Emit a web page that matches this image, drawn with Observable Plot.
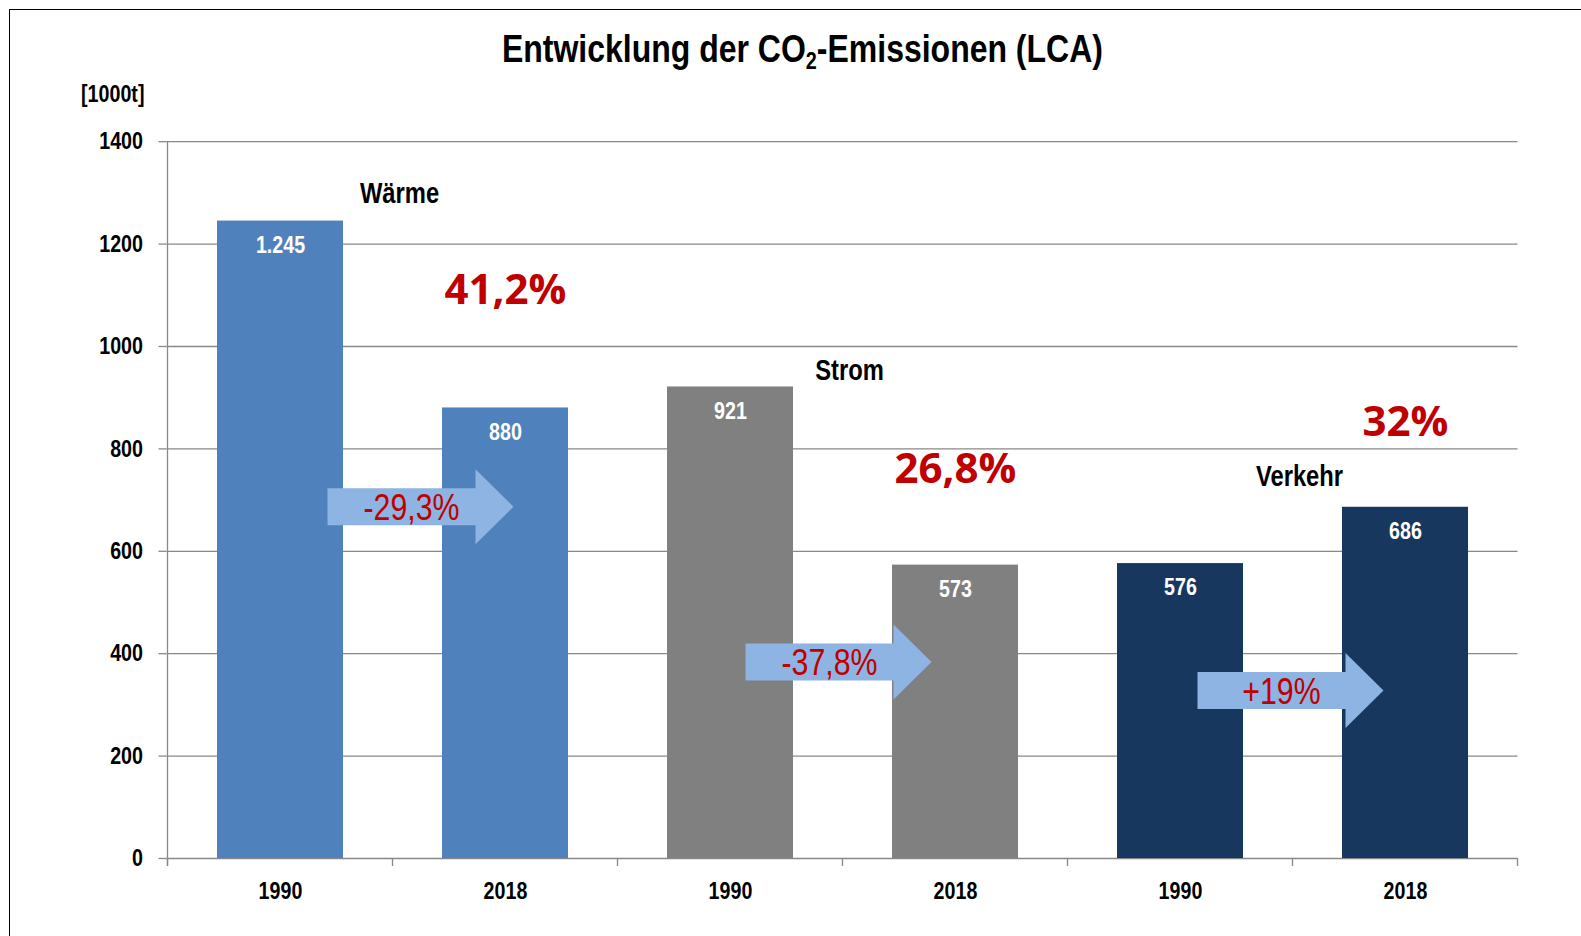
<!DOCTYPE html>
<html>
<head>
<meta charset="utf-8">
<script src="https://cdn.jsdelivr.net/npm/d3@7"></script>
<script src="https://cdn.jsdelivr.net/npm/@observablehq/plot@0.6"></script>
<style>
  html, body { margin: 0; padding: 0; background: #fff; }
  body { width: 1581px; height: 936px; overflow: hidden; position: relative;
         font-family: "Liberation Sans", Arial, sans-serif; }
  #frame { position: absolute; left: 9px; top: 9px; width: 1600px; height: 960px;
           border-left: 1.5px solid #000; border-top: 1.5px solid #000; pointer-events: none; }
  #title { position: absolute; left: 0; top: 0; width: 1604px; height: 80px; line-height: 97px;
           text-align: center; font-weight: bold; font-size: 39px; color: #000; white-space: nowrap; }
  #title span { display: inline-block; transform: scaleX(0.82); transform-origin: center; }
  #title sub { font-size: 0.62em; vertical-align: -0.28em; line-height: 0; }
  #unit { position: absolute; left: 81px; top: 80px; font-weight: bold; font-size: 24px; line-height: 28px;
          transform: scaleX(0.82); transform-origin: left center; }
  #chart { position: absolute; left: 0; top: 80px; }
</style>
</head>
<body>
<div id="title"><span>Entwicklung der CO<sub>2</sub>-Emissionen (LCA)</span></div>
<div id="unit">[1000t]</div>
<div id="chart"></div>
<div id="frame"></div>
<script>
// ---- data ----
const groups = ["Wärme", "Strom", "Verkehr"];
const years = ["1990", "2018"];
const emissions1990 = [1245, 921, 576];
const emissions2018 = [880, 573, 686];
const valueLabels1990 = ["1.245", "921", "576"];
const valueLabels2018 = ["880", "573", "686"];
const changeLabels = ["-29,3%", "-37,8%", "+19%"];
const shareLabels = ["41,2%", "26,8%", "32%"];
const yTicks = [0, 200, 400, 600, 800, 1000, 1200, 1400];
// annotation anchors (data units of the y axis)
const groupLabelY = [1298, 953, 746];
const shareLabelY = [1109, 760, 852];
const arrowY = [686, 383, 327];

// ---- styles ----
const FONT = '"Liberation Sans", Arial, sans-serif';
const NARROW_SCALE = 0.82;
const groupColors = ["#4F81BD", "#808080", "#17375E"];
const arrowColor = "#8DB4E2";
const red = "#C00000";
const gridColor = "#888888";
const arrowShift = [28, -4, -2];

// ---- tables ----
const bars = groups.flatMap((g, i) => [
  {key: g + " " + years[0], group: g, value: emissions1990[i], label: valueLabels1990[i]},
  {key: g + " " + years[1], group: g, value: emissions2018[i], label: valueLabels2018[i]}
]);
const keys = bars.map(d => d.key);
const groupTable = groups.map((g, i) => ({
  group: g, from: g + " " + years[0], to: g + " " + years[1],
  labelY: groupLabelY[i], shareY: shareLabelY[i], share: shareLabels[i],
  arrowY: arrowY[i], change: changeLabels[i]
}));

function axisFrame(index, scales) {
  const x = scales.x, y = scales.y;
  const step = x.step(), bw = x.bandwidth();
  const left = x(keys[0]) - (step - bw) / 2;
  const y0 = y(0), yTop = y(1400);
  const g = d3.create("svg:g").attr("stroke", gridColor).attr("stroke-width", 1.3).attr("fill", "none");
  g.append("line").attr("x1", left).attr("x2", left).attr("y1", yTop).attr("y2", y0 + 8);
  for (let k = 0; k <= keys.length; k++) {
    const bx = left + k * step;
    g.append("line").attr("x1", bx).attr("x2", bx).attr("y1", y0).attr("y2", y0 + 8);
  }
  return g.node();
}

function arrowsMark(index, scales) {
  const x = scales.x, y = scales.y, bw = x.bandwidth();
  const g = d3.create("svg:g");
  groupTable.forEach((a, i) => {
    const cx = (x(a.from) + bw + x(a.to)) / 2 + arrowShift[i];
    const cy = y(a.arrowY);
    const half = 93, head = 38, bodyH = 18.5, headH = 37.5;
    const pts = [[cx - half, cy - bodyH], [cx + half - head, cy - bodyH], [cx + half - head, cy - headH],
                 [cx + half, cy], [cx + half - head, cy + headH], [cx + half - head, cy + bodyH],
                 [cx - half, cy + bodyH]];
    g.append("polygon").attr("points", pts.map(p => p.join(",")).join(" ")).attr("fill", arrowColor);
    g.append("text").attr("x", cx - 9).attr("y", cy).attr("dy", "0.35em")
      .attr("text-anchor", "middle").attr("fill", red).attr("font-size", 37)
      .attr("font-family", FONT).text(a.change);
  });
  return g.node();
}

const chart = Plot.plot({
  width: 1581,
  height: 856,
  marginTop: 61.2,
  marginBottom: 78,
  marginLeft: 166.5,
  marginRight: 63.5,
  style: {fontFamily: FONT, background: "transparent", overflow: "visible", color: "#000"},
  x: {type: "band", domain: keys, paddingInner: 0.44, paddingOuter: 0.22},
  y: {domain: [0, 1400]},
  color: {domain: groups, range: groupColors},
  marks: [
    Plot.ruleY(yTicks, {stroke: gridColor, strokeWidth: 1.3}),
    axisFrame,
    Plot.barY(bars, {x: "key", y: "value", fill: "group"}),
    Plot.axisY({ticks: yTicks, tickSize: 8, tickPadding: 16, fontSize: 24, fontWeight: "bold",
                stroke: gridColor, strokeWidth: 1.3, fill: "#000", label: null, tickFormat: d => String(d)}),
    Plot.axisX({tickSize: 0, tickPadding: 23, fontSize: 24, fontWeight: "bold", fill: "#000",
                label: null, tickFormat: k => k.split(" ")[1]}),
    Plot.text(bars, {x: "key", y: "value", text: "label", dy: 24, fill: "white",
                     fontSize: 24, fontWeight: "bold"}),
    arrowsMark,
    Plot.text(groupTable, {x: "to", y: "labelY", text: "group", dx: -106, fontSize: 29, fontWeight: "bold", fill: "#000"}),
    Plot.text(groupTable, {x: "to", y: "shareY", text: "share", fill: red, fontSize: 42, fontWeight: "bold",
                           fontFamily: '"Open Sans", sans-serif'})
  ]
});

// Narrow the Arial-like text horizontally (Arial Narrow look), keeping each anchor point fixed.
chart.querySelectorAll("text").forEach(t => {
  const famHost = t.closest("[font-family]");
  if (famHost && famHost.getAttribute("font-family").includes("Open Sans")) return;
  const prev = t.getAttribute("transform") || "";
  const xa = t.getAttribute("x"), ya = t.getAttribute("y");
  if (xa != null && !prev.includes("translate")) {
    const xv = +xa, yv = +(ya || 0);
    t.setAttribute("transform", `translate(${xv},${yv}) scale(${NARROW_SCALE},1) translate(${-xv},${-yv})`);
  } else {
    t.setAttribute("transform", `${prev} scale(${NARROW_SCALE},1)`);
  }
});
document.getElementById("chart").appendChild(chart);
</script>
</body>
</html>
